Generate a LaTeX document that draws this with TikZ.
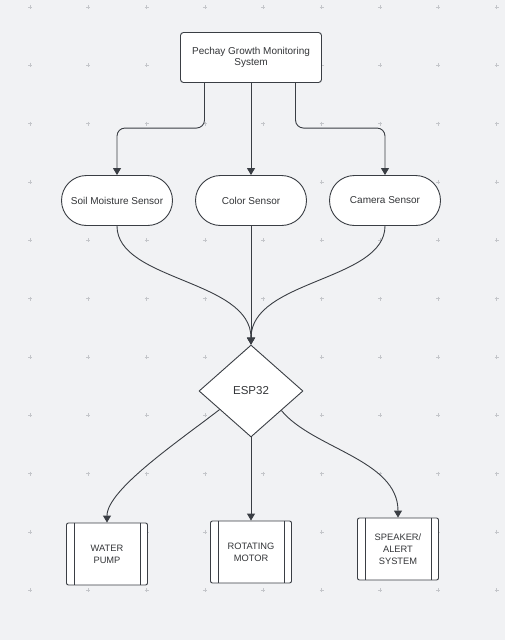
\documentclass[tikz,border=0pt]{standalone}
\usepackage{fontspec}
\setmainfont{Liberation Sans}
\usetikzlibrary{shapes.geometric,arrows.meta,calc}
\definecolor{bgcol}{HTML}{F1F2F4}
\definecolor{linecol}{HTML}{3A3E44}
\definecolor{txtcol}{HTML}{333538}
\definecolor{gridcol}{HTML}{C4C6CA}

\begin{document}
\begin{tikzpicture}[x=1pt,y=-1pt]
\tikzstyle{every node}+=[inner sep=0pt, text=txtcol, align=center]
\tikzstyle{conn}=[draw=linecol, line width=0.9pt, -{Triangle[length=7pt,width=8pt]}]
\tikzstyle{shell}=[draw=linecol, fill=white, line width=0.9pt]
\tikzstyle{sensor}=[shell, rectangle, rounded corners=25pt, minimum width=111pt, minimum height=50pt, font=\fontsize{10pt}{12pt}\selectfont]
\tikzstyle{device}=[shell, rectangle, rounded corners=2pt, minimum width=81pt, minimum height=62pt, font=\fontsize{9.3pt}{11.7pt}\selectfont]
\fill [bgcol] (0,0) rectangle (505,640);
\useasboundingbox (0,0) rectangle (505,640);
\foreach \i in {0,...,8} \foreach \j in {0,...,10} {
  \draw [gridcol, line width=0.4pt] (30+58.33*\i-2, 7+58.33*\j) -- ++(4,0) (30+58.33*\i, 7+58.33*\j-2) -- ++(0,4);
}
\node [shell, rectangle, rounded corners=3pt, minimum width=141pt, minimum height=50pt, font=\fontsize{10pt}{11.5pt}\selectfont] (sys) at (251,57.5) {Pechay Growth Monitoring\\System};
\node [sensor] (soil) at (117,200.5) {Soil Moisture Sensor};
\node [sensor] (colr) at (251,200.5) {Color Sensor};
\node [sensor] (cam) at (385,200.5) {Camera Sensor};
\node [shell, diamond, minimum width=104pt, minimum height=92pt, font=\fontsize{11.5pt}{14pt}\selectfont] (esp) at (251,391) {ESP32};
\node [device] (pump) at (107,554) {WATER\\PUMP};
\node [device] (motor) at (251,552) {ROTATING\\MOTOR};
\node [device] (spk) at (398,549) {SPEAKER/\\ALERT\\SYSTEM};
\foreach \n in {pump,motor,spk} {
  \draw [linecol, line width=0.9pt] ([xshift=8pt]\n.north west) -- ([xshift=8pt]\n.south west);
  \draw [linecol, line width=0.9pt] ([xshift=-8pt]\n.north east) -- ([xshift=-8pt]\n.south east);
}
\draw [conn, rounded corners=8pt] ([xshift=-46.5pt]sys.south) |- ([yshift=47pt]soil.north) -- (soil.north);
\draw [conn] (sys.south) -- (colr.north);
\draw [conn, rounded corners=8pt] ([xshift=44.5pt]sys.south) |- ([yshift=47pt]cam.north) -- (cam.north);
\draw [conn] (soil.south) .. controls +(0,55) and +(0,-65) .. (esp.north);
\draw [conn] (colr.south) -- (esp.north);
\draw [conn] (cam.south) .. controls +(0,55) and +(0,-65) .. (esp.north);
\coordinate (espl) at ($(esp.west)!0.4!(esp.south)$);
\coordinate (espr) at ($(esp.east)!0.42!(esp.south)$);
\draw [conn] (espl) .. controls +(-40,31) and +(0,-33) .. (pump.north);
\draw [conn] (esp.south) -- (motor.north);
\draw [conn] (espr) .. controls +(31,38) and +(0,-58) .. (spk.north);
\end{tikzpicture}
\end{document}
